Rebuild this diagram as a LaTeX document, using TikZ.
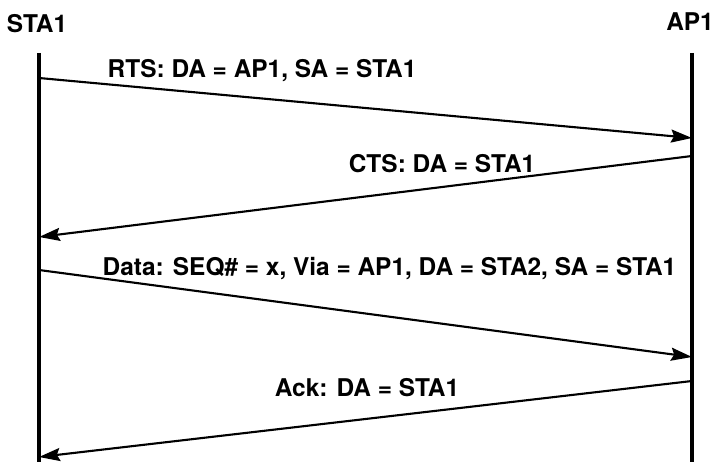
\documentclass[tikz,border=0pt]{standalone}
\usepackage{fontspec}
\setmainfont{TeX Gyre Heros}
\usepackage{tikz}
\usetikzlibrary{arrows.meta}

\begin{document}
\begin{tikzpicture}[>={Stealth[length=0.42cm,width=0.26cm,inset=0.06cm]},
    lbl/.style={font=\fontsize{13.9}{16}\selectfont\bfseries, inner sep=0pt},
    msg/.style={->, line width=1.2pt}]
    \useasboundingbox (0,0) rectangle (14.3,9.24);
    % lifelines
    \draw[line width=2.3pt](0.78,8.18)--(0.78,0);
    \draw[line width=2.3pt](13.84,8.18)--(13.84,0);
    \node[lbl] (sta) at (0.74,8.77){STA1};
    \node[lbl] (ap) at (13.8,8.8){AP1};
    % message end points
    \coordinate (s1) at (0.78,7.68);  \coordinate (a1) at (13.84,6.48);
    \coordinate (a2) at (13.84,6.12); \coordinate (s2) at (0.78,4.50);
    \coordinate (s3) at (0.78,3.84);  \coordinate (a3) at (13.84,2.10);
    \coordinate (a4) at (13.84,1.62); \coordinate (s4) at (0.78,0.10);
    \draw[msg](s1)--(a1);
    \draw[msg](a2)--(s2);
    \draw[msg](s3)--(a3);
    \draw[msg](a4)--(s4);
    \node[lbl] (rts) at (5.24,7.82){RTS: DA = AP1, SA = STA1};
    \node[lbl] (cts) at (8.84,5.96){CTS: DA = STA1};
    \node[lbl] (data) at (7.79,3.86){Data: SEQ\# = x, Via = AP1, DA = STA2, SA = STA1};
    \node[lbl] (ack) at (7.34,1.48){Ack: DA = STA1};
\end{tikzpicture}
\end{document}
